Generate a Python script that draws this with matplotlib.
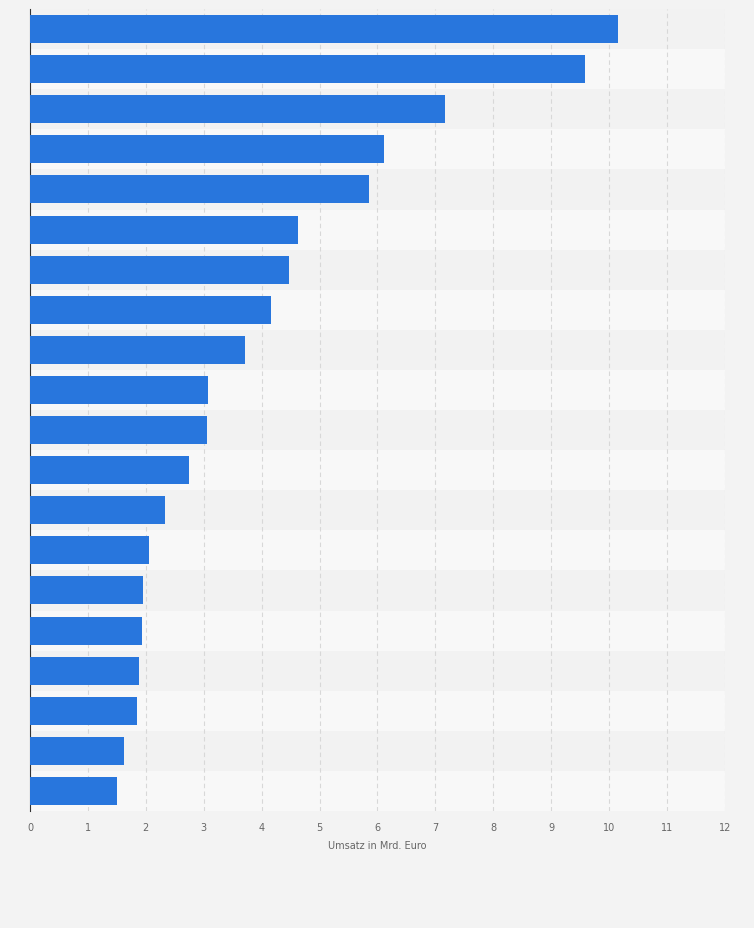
import matplotlib
matplotlib.use("Agg")
import matplotlib.pyplot as plt
import numpy as np

values = [10.16, 9.58, 7.17, 6.11, 5.85, 4.63, 4.47, 4.16, 3.71, 3.07,
          3.06, 2.75, 2.33, 2.06, 1.95, 1.93, 1.88, 1.85, 1.62, 1.50]
xticks = list(range(0, 13))

fig = plt.figure(figsize=(7.54, 9.29), dpi=100)
fig.patch.set_facecolor("#f3f3f3")
ax = fig.add_axes([30/754, 117/929, 695/754, 802/929])
ax.set_facecolor("#f8f8f8")
n = len(values)
y = np.arange(n)
for i in y:
    ax.axhspan(i - 0.5, i + 0.5, color="#f2f2f2" if i % 2 == 0 else "#f8f8f8", zorder=0, lw=0)
ax.barh(y, values, height=0.7, color="#2876dd", zorder=3)
ax.set_ylim(n - 0.5, -0.5)
ax.set_xlim(0, 12)
ax.set_xticks(xticks)
ax.set_xticklabels([str(t) for t in xticks], fontsize=7, color="#666666")
ax.set_yticks([])
ax.grid(axis="x", color="#d8d8d8", linestyle=(0, (4, 3)), lw=0.8, zorder=1)
for s in ["top", "right", "bottom"]:
    ax.spines[s].set_visible(False)
ax.spines["left"].set_color("#333333")
ax.tick_params(axis="x", length=0, pad=8)
ax.set_xlabel("Umsatz in Mrd. Euro", fontsize=7, color="#666666", labelpad=6)
fig.savefig("out.png", dpi=100, facecolor=fig.get_facecolor())
